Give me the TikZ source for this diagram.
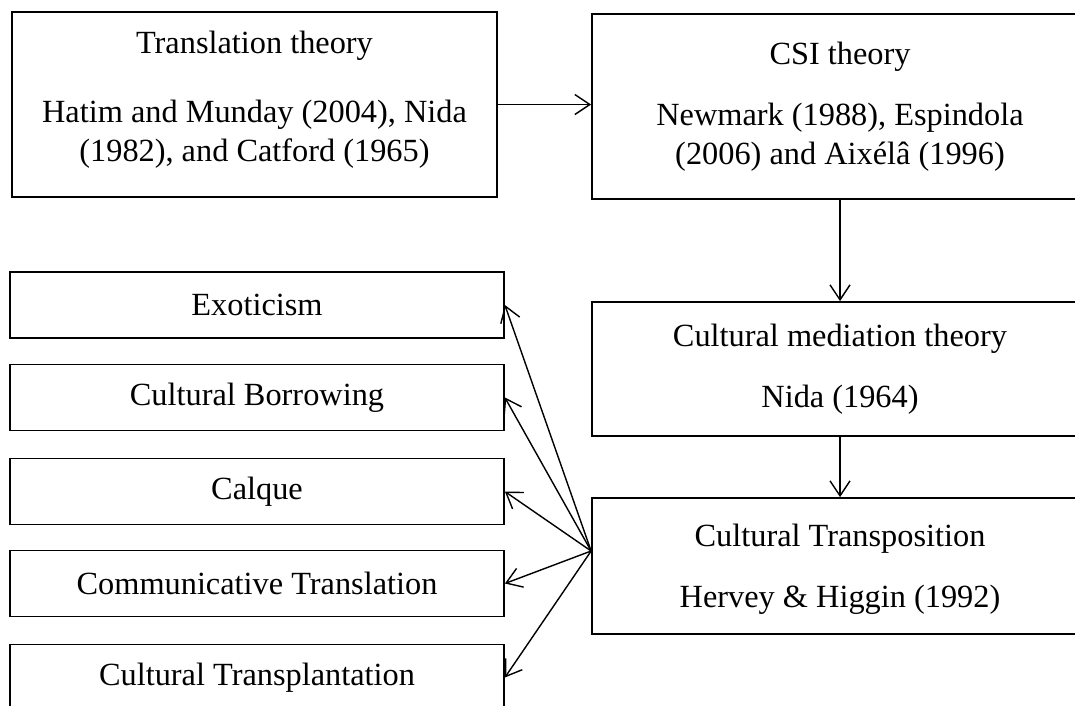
\documentclass[tikz,border=0pt]{standalone}
\usepackage{fontspec}
\setmainfont{Liberation Serif}
\usetikzlibrary{arrows.meta}
\begin{document}
\begin{tikzpicture}
	\tikzstyle{theory}=[rectangle,draw=black,line width=1pt,align=center,font=\fontsize{18.4}{22}\selectfont,minimum width=9.92cm,minimum height=3.7cm]
	\tikzstyle{method}=[rectangle,draw=black,line width=1pt,font=\fontsize{18.4}{22}\selectfont,minimum width=9.88cm,minimum height=1.32cm]
	\tikzstyle{edge}=[line width=0.8pt, -{Straight Barb[length=3mm,width=4mm]}]
	\useasboundingbox (0,0) rectangle (21.5,-14.1);
	\begin{scope}
		\node [theory,minimum width=9.7cm,text depth=9.6pt] (trans) at (5.09,-2.09) {Translation theory\\[17.5pt]Hatim and Munday (2004), Nida\\(1982), and Catford (1965)};
		\node [theory] (csi) at (16.8,-2.13) {CSI theory\\[13pt]Newmark (1988), Espindola\\(2006) and Aixélâ (1996)};
		\node [theory,minimum height=2.68cm] (mediation) at (16.8,-7.38) {Cultural mediation theory\\[13pt]Nida (1964)};
		\node [theory,minimum height=2.72cm,text depth=0pt] (transposition) at (16.8,-11.32) {Cultural Transposition\\[13pt]Hervey \& Higgin (1992)};
		\node [method] (exoticism) at (5.14,-6.1) {Exoticism};
		\node [method] (borrowing) at (5.14,-7.95) {Cultural Borrowing};
		\node [method] (calque) at (5.14,-9.83) {Calque};
		\node [method] (communicative) at (5.14,-11.67) {Communicative Translation};
		\node [method] (transplantation) at (5.14,-13.55) {Cultural Transplantation};
		\coordinate (fan) at ([yshift=0.3cm]transposition.west);
		\path (trans.east) edge[edge] (trans.east -| csi.west);
		\path (csi.south) edge[edge] (mediation.north);
		\path (mediation.south) edge[edge] (transposition.north);
		\path (fan) edge[edge] (exoticism.east);
		\path (fan) edge[edge] (borrowing.east);
		\path (fan) edge[edge] (calque.east);
		\path (fan) edge[edge] (communicative.east);
		\path (fan) edge[edge] (transplantation.east);
	\end{scope}
\end{tikzpicture}
\end{document}
